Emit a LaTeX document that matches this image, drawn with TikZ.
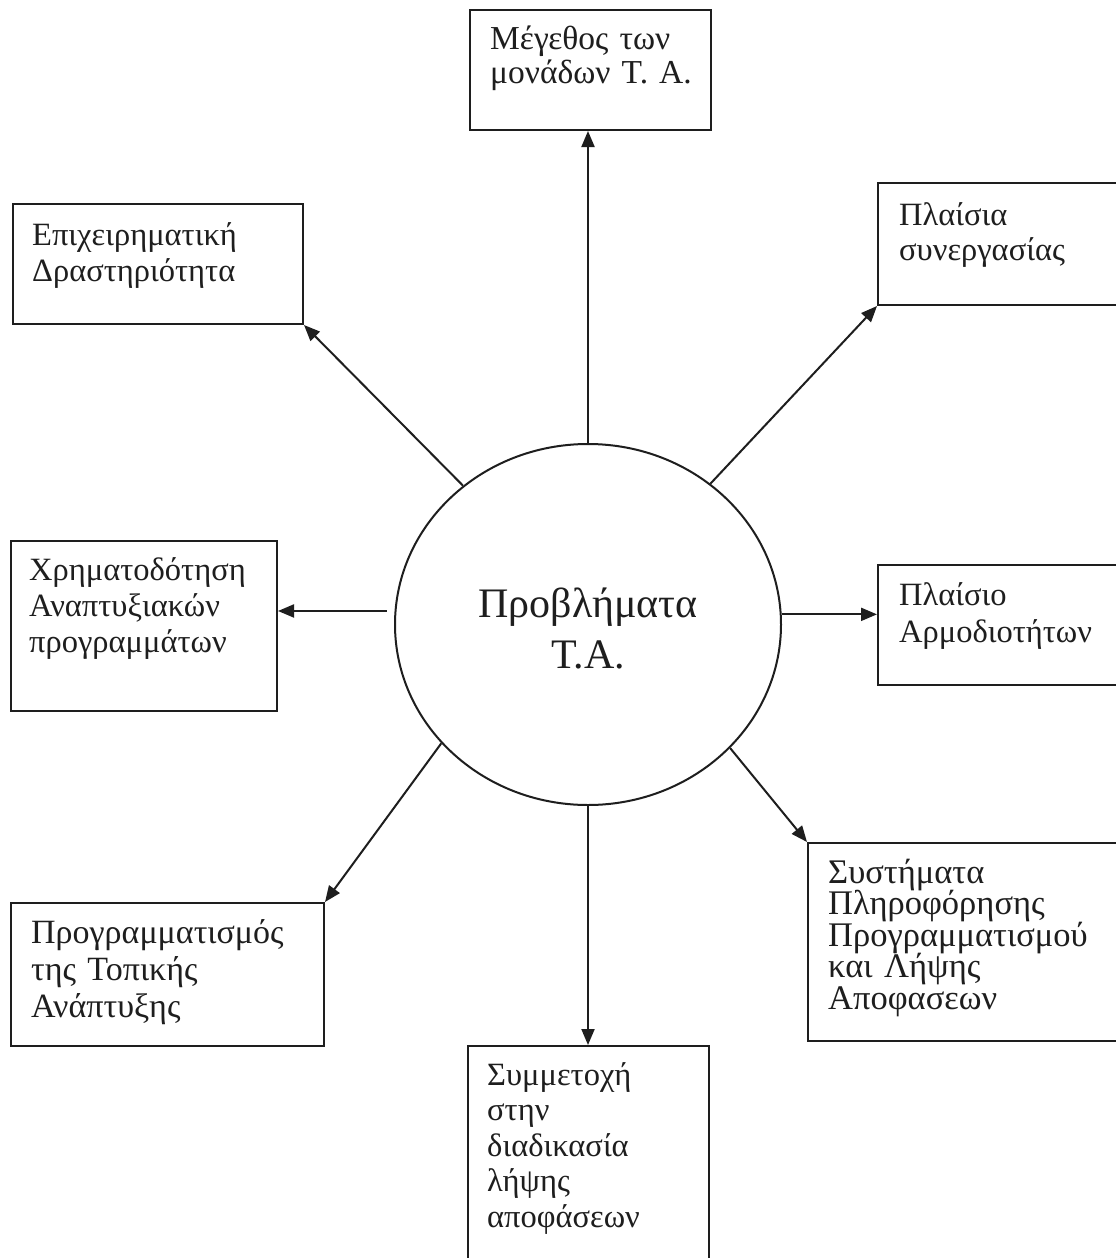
\documentclass[tikz,border=0pt]{standalone}
\usepackage{fontspec}
\setmainfont{Liberation Serif}
\usetikzlibrary{arrows.meta,shapes.geometric}
\definecolor{ink}{RGB}{30,30,30}
\newcommand\boxfnt[2]{\fontsize{#1}{#2}\selectfont\lineskiplimit=-60pt\relax}
\newcommand\firststrut{\rule{0pt}{26pt}}
\begin{document}
\begin{tikzpicture}[x=1pt,y=-1pt,
  box/.style={draw=ink,line width=2pt,inner sep=0pt,anchor=north west},
  lbl/.style={anchor=north west,inner sep=0pt,text=ink,align=left,text width=320pt},
  arr/.style={draw=ink,line width=2pt,-{Triangle[length=16pt,width=13pt]}}]
\fill[white] (0,0) rectangle (1116,1258);
\clip (0,0) rectangle (1116,1258);
% boxes
\node[box,minimum width=241pt,minimum height=120pt] (b1) at (469,9) {};
\node[box,minimum width=290pt,minimum height=120pt] (b2) at (12,203) {};
\node[box,minimum width=242pt,minimum height=122pt] (b3) at (877,182) {};
\node[box,minimum width=266pt,minimum height=170pt] (b4) at (10,540) {};
\node[box,minimum width=242pt,minimum height=120pt] (b5) at (877,564) {};
\node[box,minimum width=313pt,minimum height=143pt] (b7) at (10,902) {};
\node[box,minimum width=312pt,minimum height=198pt] (b8) at (807,842) {};
\node[box,minimum width=241pt,minimum height=225pt] (b9) at (467,1045) {};
% labels
\node[lbl,font=\boxfnt{33.5}{34}] (t1) at (490,23) {\firststrut Μέγεθος των\\μονάδων Τ. Α.};
\node[lbl,font=\boxfnt{32.5}{36}] (t2) at (32,219) {\firststrut Επιχειρηματική\\Δραστηριότητα};
\node[lbl,font=\boxfnt{32.5}{35}] (t3) at (899,199) {\firststrut Πλαίσια\\συνεργασίας};
\node[lbl,font=\boxfnt{32.5}{36}] (t4) at (29,554) {\firststrut Χρηματοδότηση\\Αναπτυξιακών\\προγραμμάτων};
\node[lbl,font=\boxfnt{32.5}{37}] (t5) at (899,579) {\firststrut Πλαίσιο\\Αρμοδιοτήτων};
\node[lbl,font=\boxfnt{34}{37}] (t7) at (31,917) {\firststrut Προγραμματισμός\\της Τοπικής\\Ανάπτυξης};
\node[lbl,font=\boxfnt{34.5}{31.5}] (t8) at (828,857) {\firststrut Συστήματα\\Πληροφόρησης\\Προγραμματισμού\\και Λήψης\\Αποφασεων};
\node[lbl,font=\boxfnt{32.5}{35.5}] (t9) at (487,1059) {\firststrut Συμμετοχή\\στην\\διαδικασία\\λήψης\\αποφάσεων};
% centre
\node[ellipse,draw=ink,line width=2pt,minimum width=386pt,minimum height=361pt,inner sep=0pt] (c) at (588,624.5) {};
\node[anchor=north,inner sep=0pt,text=ink,align=center,text width=320pt,font=\fontsize{42}{51}\selectfont] (ct) at (588,583.7) {\rule{0pt}{34pt}Προβλήματα\\Τ.Α.};
% connectors
\draw[arr] (c.north) -- (c.north |- b1.south);
\draw[arr] (c.132.9) -- (b2.south east);
\draw[arr] (c.49.2) -- (b3.south west);
\draw[arr] ([xshift=-8pt]c.176.3) -- (c.176.3 -| b4.east);
\draw[arr] (c.3.7) -- (c.3.7 -| b5.west);
\draw[arr] (c.219.5) -- (b7.north east);
\draw[arr] (c.south) -- (c.south |- b9.north);
\draw[arr] (c.319.3) -- (b8.north west);
\end{tikzpicture}
\end{document}
